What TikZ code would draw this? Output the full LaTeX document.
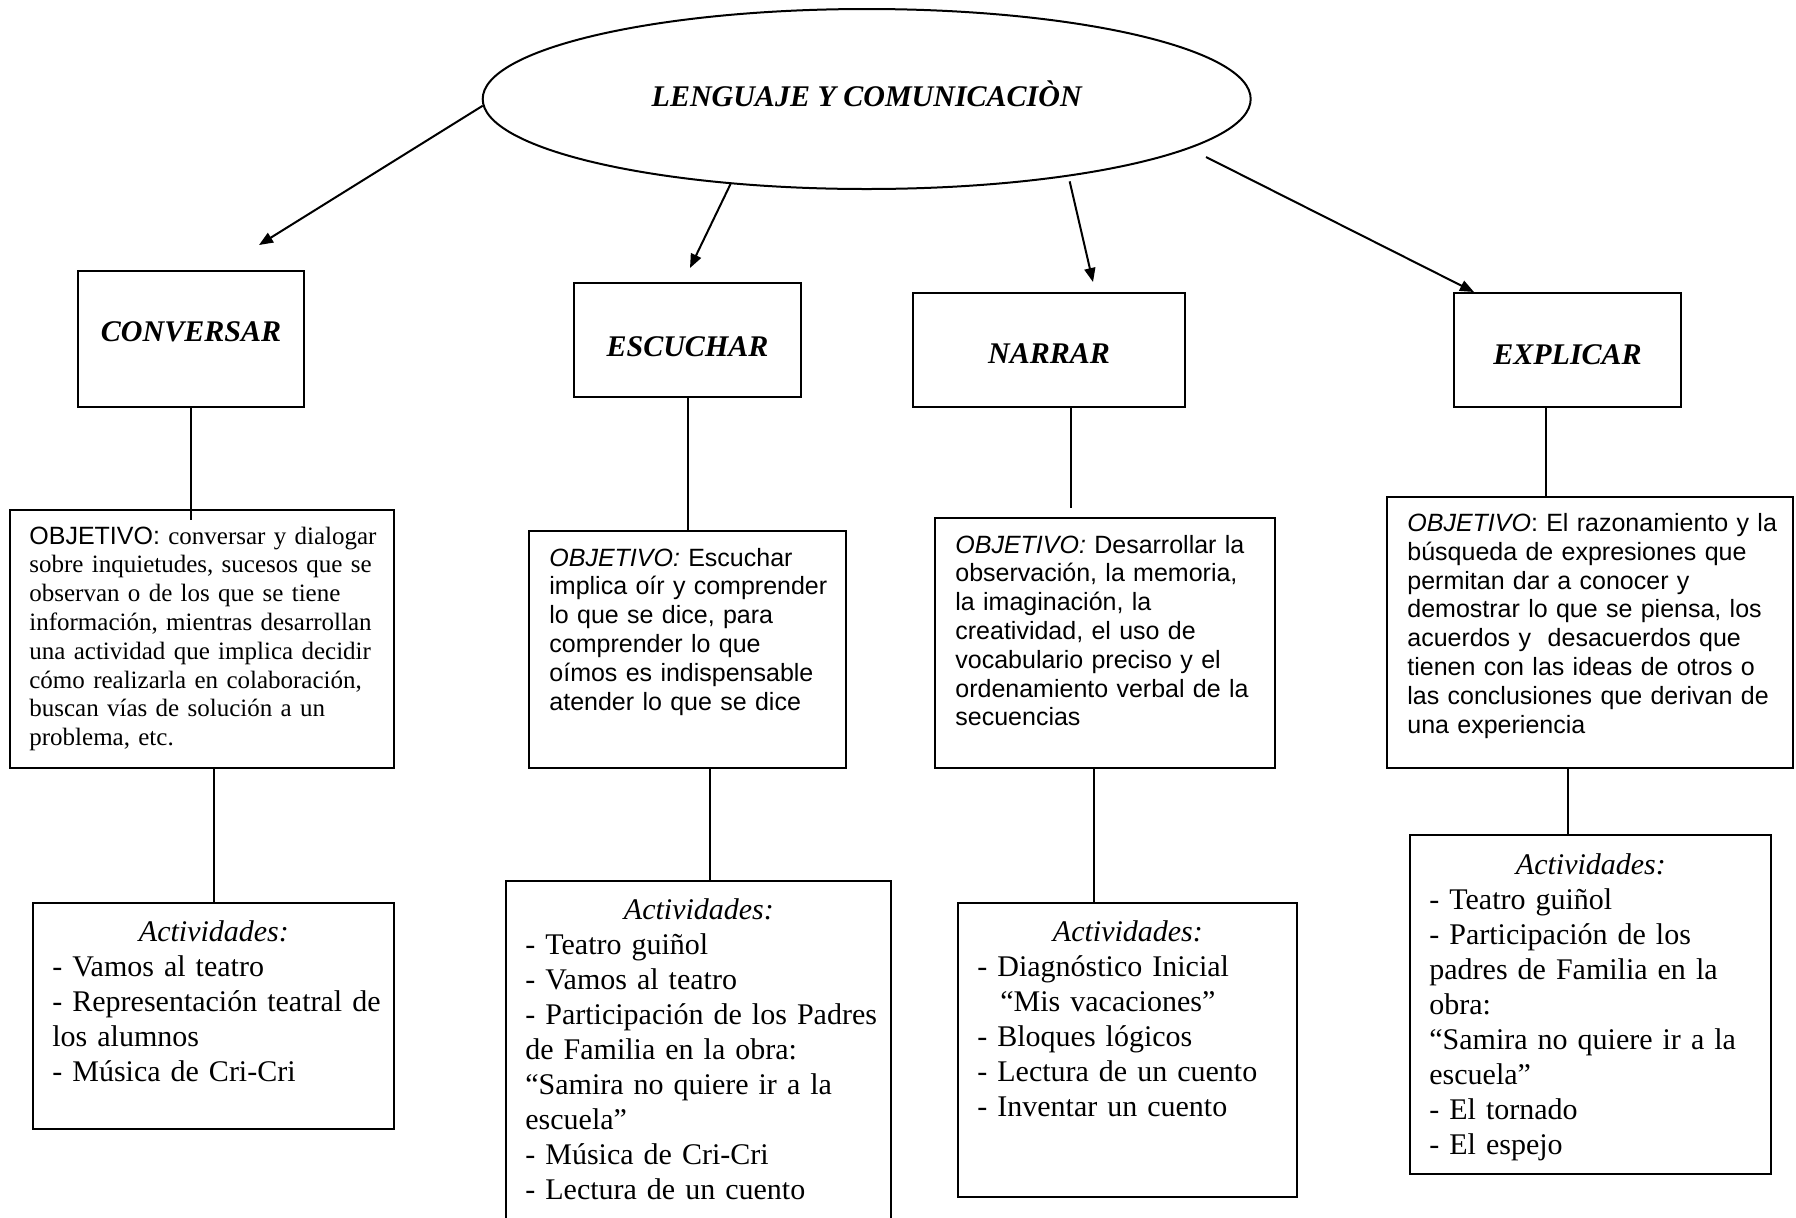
\documentclass[tikz,border=0pt]{standalone}
\usepackage{fontspec}
\setmainfont{Liberation Serif}
\setsansfont{Liberation Sans}
\usetikzlibrary{arrows.meta,shapes.geometric,fit,calc}
\begin{document}
\begin{tikzpicture}[x=0.5pt,y=-0.5pt,
  box/.style={draw,line width=1pt,inner sep=0pt},
  conn/.style={line width=1pt},
  arr/.style={line width=1pt,-{Triangle[length=7pt,width=5.5pt]}},
  hd/.style={inner sep=0pt,font=\fontsize{15}{18}\selectfont\bfseries\itshape},
  objtxt/.style={anchor=base west,inner sep=0pt,text width=230pt,align=left,font=\fontsize{12.5}{14.4}\selectfont},
  objsans/.style={anchor=base west,inner sep=0pt,text width=230pt,align=left,font=\fontsize{12.5}{14.4}\selectfont\sffamily},
  acttxt/.style={anchor=base west,inner sep=0pt,text width=230pt,align=left,font=\fontsize{15}{17.5}\selectfont},
]
\useasboundingbox[fill=white] (0,0) rectangle (1796,1217);

% main ellipse
\node[draw,line width=1pt,ellipse,minimum width=384pt,minimum height=90pt,inner sep=0pt] (main) at (866.7,99) {};
\node[hd,anchor=base] (mainT) at (866.7,106.5) {LENGUAJE Y COMUNICACIÒN};

% first row boxes
\node[box,fit={(77.5,271) (304,407)}] (conv) {};
\node[box,fit={(574,283) (801,397)}] (esc) {};
\node[box,fit={(913,293) (1185,407)}] (nar) {};
\node[box,fit={(1454,293) (1681,407)}] (exp) {};
\node[hd] (convT) at (191,332) {CONVERSAR};
\node[hd] (escT) at (687.5,347) {ESCUCHAR};
\node[hd] (narT) at (1049,354) {NARRAR};
\node[hd] (expT) at (1567.5,355) {EXPLICAR};

% arrows
\coordinate (e1) at (259,245);
\coordinate (e2) at (690,268);
\coordinate (e3) at (1093,282);
\coordinate (s4) at (1206,157);
\coordinate (e4) at (1474,292);
\draw[arr] (main.181) -- (e1);
\draw[arr] (main.212) -- (e2);
\draw[arr,shorten <=2.5pt] (main.339) -- (e3);
\draw[arr] (s4) -- (e4);

% objective boxes
\node[box,fit={(10,510) (394,768)}] (obj1) {};
\node[box,fit={(529,531) (846,768)}] (obj2) {};
\node[box,fit={(935,518) (1275,768)}] (obj3) {};
\node[box,fit={(1387,497) (1793,768)}] (obj4) {};

\node[objtxt] (obj1T) at (29,544) {\textsf{OBJETIVO:} conversar y dialogar\\
sobre inquietudes, sucesos que se\\
observan o de los que se tiene\\
información, mientras desarrollan\\
una actividad que implica decidir\\
cómo realizarla en colaboración,\\
buscan vías de solución a un\\
problema, etc.};

\node[objsans] (obj2T) at (549,566) {\textit{OBJETIVO:} Escuchar\\
implica oír y comprender\\
lo que se dice, para\\
comprender lo que\\
oímos es indispensable\\
atender lo que se dice};

\node[objsans] (obj3T) at (955,553) {\textit{OBJETIVO:} Desarrollar la\\
observación, la memoria,\\
la imaginación, la\\
creatividad, el uso de\\
vocabulario preciso y el\\
ordenamiento verbal de la\\
secuencias};

\node[objsans] (obj4T) at (1407,531.5) {\textit{OBJETIVO}: El razonamiento y la\\
búsqueda de expresiones que\\
permitan dar a conocer y\\
demostrar lo que se piensa, los\\
acuerdos y\ \ desacuerdos que\\
tienen con las ideas de otros o\\
las conclusiones que derivan de\\
una experiencia};

% activity boxes
\node[box,fit={(33,903) (394,1129)}] (act1) {};
\begin{scope}
\clip (0,0) rectangle (1796,1217);
\node[box,fit={(506,881) (891,1240)}] (act2) {};
\end{scope}
\node[box,fit={(958,903) (1297,1197)}] (act3) {};
\node[box,fit={(1410,835) (1771,1174)}] (act4) {};

\node[acttxt] (act1T) at (52,941) {\makebox[161.5pt]{\itshape Actividades:}\\
- Vamos al teatro\\
- Representación teatral de\\
los alumnos\\
- Música de Cri-Cri};

\node[acttxt] (act2T) at (525,919) {\makebox[173.5pt]{\itshape Actividades:}\\
- Teatro guiñol\\
- Vamos al teatro\\
- Participación de los Padres\\
de Familia en la obra:\\
“Samira no quiere ir a la\\
escuela”\\
- Música de Cri-Cri\\
- Lectura de un cuento};

\node[acttxt] (act3T) at (977,941) {\makebox[150.5pt]{\itshape Actividades:}\\
- Diagnóstico Inicial\\
\hspace*{11.5pt}“Mis vacaciones”\\
- Bloques lógicos\\
- Lectura de un cuento\\
- Inventar un cuento};

\node[acttxt] (act4T) at (1429,874) {\makebox[161.5pt]{\itshape Actividades:}\\
- Teatro guiñol\\
- Participación de los\\
padres de Familia en la\\
obra:\\
“Samira no quiere ir a la\\
escuela”\\
- El tornado\\
- El espejo};

% connectors
\draw[conn] (conv.south) -- ($(conv.south |- obj1.north)+(0,11)$);
\draw[conn] (esc.south) -- (esc.south |- obj2.north);
\draw[conn] ($(nar.south)+(22,0)$) -- ($(nar.south |- obj3.north)+(22,-9)$);
\draw[conn] ($(exp.south)+(-21.5,0)$) -- ($(exp.south |- obj4.north)+(-21.5,0)$);
\draw[conn] (act1.north |- obj1.south) -- (act1.north);
\draw[conn] ($(act2.north |- obj2.south)+(11.5,0)$) -- ($(act2.north)+(11.5,0)$);
\draw[conn] ($(obj3.south)+(-11,0)$) -- ($(obj3.south |- act3.north)+(-11,0)$);
\draw[conn] ($(obj4.south)+(-22.5,0)$) -- ($(obj4.south |- act4.north)+(-22.5,0)$);
\end{tikzpicture}
\end{document}
